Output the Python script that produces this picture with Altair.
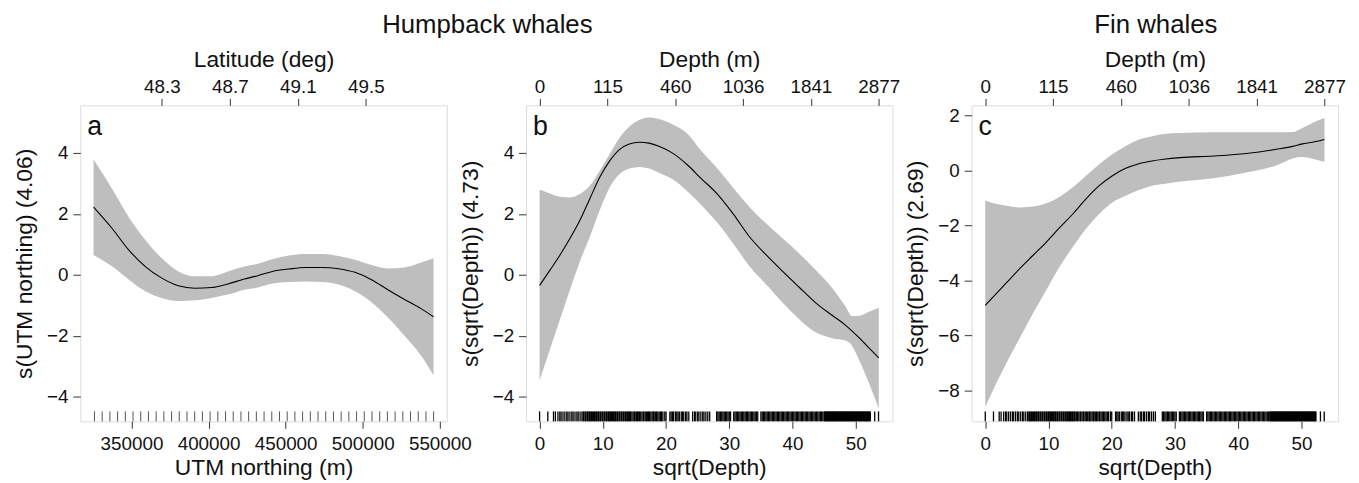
import altair as alt
import pandas as pd

FONT = "Liberation Sans"
GREY = "#BEBEBE"
W, H = 370, 319

# ---------------- Panel a: humpback, UTM northing ----------------
a_x = [325400, 337600, 348300, 359000, 369700, 380400, 391100, 401800, 412500,
       423200, 432000, 441400, 452100, 462800, 473600, 484200, 495000, 505700,
       516300, 527100, 537800, 545900]
a_fit = [2.22, 1.51, 0.81, 0.27, -0.11, -0.36, -0.44, -0.42, -0.30, -0.14, -0.03,
         0.11, 0.19, 0.24, 0.24, 0.20, 0.08, -0.16, -0.49, -0.81, -1.11, -1.38]
a_hi = [3.78, 2.81, 1.89, 1.14, 0.54, 0.11, -0.05, -0.05, 0.11, 0.27, 0.36,
        0.51, 0.63, 0.68, 0.68, 0.62, 0.49, 0.32, 0.21, 0.24, 0.40, 0.54]
a_lo = [0.65, 0.27, -0.16, -0.54, -0.76, -0.86, -0.84, -0.76, -0.65, -0.49, -0.42,
        -0.29, -0.24, -0.22, -0.24, -0.32, -0.54, -0.90, -1.40, -2.00, -2.65, -3.30]
a_rug = [326000, 331000, 336000, 341000, 346000, 351000, 356000, 361000, 366000,
         371000, 376000, 381000, 386000, 391000, 396000, 401000, 406000, 411000,
         416000, 421000, 426000, 431000, 436000, 441000, 446000, 451000, 456000,
         461000, 466000, 471000, 476000, 481000, 486000, 491000, 496000, 501000,
         506000, 511000, 516000, 521000, 526000, 531000, 536000, 541000, 546000]
a_xticks = [350000, 400000, 450000, 500000, 550000]
a_xdom = [316800, 554500]
lat_ticks = [48.3, 48.7, 49.1, 49.5]
lat_dom = [47.8204, 49.9757]   # latitude at the left / right edge of panel a

# ---------------- Panel b: humpback, sqrt(depth) ----------------
b_x = [0, 1.67, 3.23, 4.80, 6.36, 7.93, 9.49, 11.06, 12.62, 14.18, 15.75, 17.31,
       18.88, 20.97, 23.57, 25.40, 28.01, 30.61, 33.22, 35.84, 38.44, 41.05, 43.66,
       46.26, 48.36, 49.39, 50.44, 52.0, 53.64]
b_fit = [-0.35, 0.16, 0.65, 1.19, 1.78, 2.49, 3.19, 3.73, 4.11, 4.29, 4.35, 4.32,
         4.22, 4.00, 3.57, 3.19, 2.67, 2.00, 1.24, 0.65, 0.11, -0.41, -0.92, -1.33,
         -1.65, -1.84, -2.05, -2.38, -2.73]
b_hi = [2.79, 2.67, 2.56, 2.54, 2.65, 2.92, 3.41, 3.95, 4.49, 4.86, 5.08, 5.16,
        5.11, 4.94, 4.59, 4.11, 3.51, 2.86, 2.22, 1.68, 1.19, 0.70, 0.16, -0.43,
        -1.03, -1.35, -1.35, -1.22, -1.08]
b_lo = [-3.46, -2.43, -1.46, -0.49, 0.43, 1.24, 2.11, 2.86, 3.30, 3.49, 3.54, 3.49,
        3.35, 3.14, 2.70, 2.32, 1.73, 1.03, 0.27, -0.32, -0.92, -1.46, -1.89, -2.08,
        -2.16, -2.32, -2.76, -3.51, -4.38]

# ---------------- Panel c: fin whales, sqrt(depth) ----------------
c_x = [0, 1.82, 3.39, 5.48, 7.57, 9.66, 11.75, 13.84, 15.93, 18.02, 20.11, 22.20,
       24.29, 26.38, 28.21, 30.82, 36.05, 41.27, 46.49, 48.59, 50.16, 51.72, 53.64]
c_fit = [-4.91, -4.47, -4.08, -3.57, -3.09, -2.61, -2.09, -1.59, -1.04, -0.56, -0.20,
         0.07, 0.24, 0.34, 0.40, 0.46, 0.52, 0.61, 0.78, 0.87, 0.96, 1.02, 1.12]
c_hi = [-1.11, -1.23, -1.29, -1.35, -1.32, -1.20, -0.96, -0.62, -0.20, 0.22, 0.58,
        0.88, 1.12, 1.24, 1.32, 1.36, 1.38, 1.38, 1.38, 1.39, 1.54, 1.72, 1.90]
c_lo = [-8.61, -7.71, -6.99, -6.09, -5.19, -4.35, -3.51, -2.79, -2.13, -1.59, -1.17,
        -0.93, -0.72, -0.56, -0.50, -0.41, -0.29, -0.08, 0.22, 0.43, 0.48, 0.42, 0.30]

# rug of sqrt(depth) of survey segments (same for panels b and c)
depth_rug = [
    0.0, 1.3,
    2.2, 2.5, 2.9, 3.2, 3.4, 3.7, 4.0, 4.3, 4.5, 4.8, 5.1, 5.3, 5.6, 5.9, 6.1, 6.4, 6.7,
    6.9, 7.0, 7.2, 7.3, 7.5, 7.6, 7.8, 7.9, 8.1, 8.2, 8.4, 8.5, 8.7, 8.8, 9.0, 9.1,
    9.3, 9.4, 9.6, 9.7, 9.9, 10.0, 10.2, 10.3, 10.5, 10.6, 10.8, 10.9, 11.1, 11.2,
    11.4, 11.5, 11.7, 11.8, 12.0, 12.1, 12.3, 12.4, 12.6, 12.7, 12.9, 13.0, 13.2,
    13.3, 13.5, 13.6, 13.8, 13.9, 14.1, 14.2, 14.4, 14.6, 14.8, 15.0, 15.1, 15.3,
    15.5, 15.6, 15.8, 16.0, 16.2, 16.4, 16.5, 16.7, 16.9, 17.1, 17.2, 17.4, 17.6,
    17.8, 18.0, 18.1, 18.3, 18.5, 18.7, 18.9, 19.1, 19.3, 19.5,
    19.8, 20.0, 20.6, 20.8, 21.0, 21.2, 21.5, 21.7, 21.9, 22.1, 22.4, 22.6, 22.8,
    23.1, 23.3, 23.6, 24.2, 24.5, 24.7, 25.0, 25.2, 25.5, 25.8, 26.0, 26.3, 26.6, 26.9,
    28.0, 28.2, 28.4, 28.6, 28.8, 29.0, 29.2, 29.4, 29.6, 29.8, 30.0, 30.2, 30.7,
    30.9, 31.1, 31.3, 31.5, 31.7, 31.9, 32.1, 32.3, 32.5, 32.7, 32.9, 33.1, 33.3,
    33.5, 33.7, 33.9, 34.1, 34.3, 34.5, 35.0, 35.2, 35.4, 35.6, 35.8, 36.0, 36.2,
    36.4, 36.6, 36.8, 37.0, 37.2, 37.4, 37.6, 37.8, 38.0, 38.2, 38.4, 38.6, 38.8,
    39.0, 39.2, 39.4, 39.6, 39.8, 40.0, 40.2, 40.4, 40.6, 40.8, 41.0, 41.2, 41.4,
    41.6, 41.8, 42.0, 42.2, 42.4, 42.6, 42.8, 43.0, 43.2, 43.4, 43.6, 43.8, 44.0,
    44.2, 44.4, 44.6, 44.8,
    45.0, 45.1, 45.2, 45.3, 45.4, 45.5, 45.6, 45.7, 45.8, 45.9, 46.0, 46.1, 46.2,
    46.3, 46.4, 46.5, 46.6, 46.7, 46.8, 46.9, 47.0, 47.1, 47.2, 47.3, 47.4, 47.5,
    47.6, 47.7, 47.8, 47.9, 48.0, 48.1, 48.2, 48.3, 48.4, 48.5, 48.6, 48.7, 48.8,
    48.9, 49.0, 49.1, 49.2, 49.3, 49.4, 49.5, 49.6, 49.7, 49.8, 49.9, 50.0, 50.1,
    50.2, 50.3, 50.4, 50.5, 50.6, 50.7, 50.8, 50.9, 51.0, 51.1, 51.2, 51.3, 51.4,
    51.5, 51.6, 51.7, 51.8, 51.9, 52.0, 52.1, 52.2, 52.3,
    53.0, 53.6,
]
sq_xticks = [0, 10, 20, 30, 40, 50]
sq_xdom = [-2.15, 55.8]
depth_ticks = [0, 115, 460, 1036, 1841, 2877]

# tick positions of the top axes, expressed on each panel's own x scale
depth_tick_pos = [d ** 0.5 for d in depth_ticks]
_k = (a_xdom[1] - a_xdom[0]) / (lat_dom[1] - lat_dom[0])
lat_tick_pos = [a_xdom[0] + (v - lat_dom[0]) * _k for v in lat_ticks]
lat_label_expr = (f"format({lat_dom[0]} + (datum.value - {a_xdom[0]}) / {_k}, '.1f')")
depth_label_expr = "format(round(datum.value * datum.value), 'd')"

AXIS_COMMON = dict(grid=False, domain=False, labelFlush=False, labelOverlap=False,
                   tickColor="#333333", tickWidth=1, labelColor="#111111",
                   titleColor="#111111", labelFont=FONT, titleFont=FONT,
                   labelFontSize=19, titleFontSize=23, titleFontWeight="normal")


def panel(xs, fit, lo, hi, rug, xdom, ydom, xticks, xtitle, yticks, ytitle,
          letter, top_vals, top_expr, top_title, rug_color, rug_width, xfmt=None):
    df = pd.DataFrame({"x": xs, "fit": fit, "lo": lo, "hi": hi})
    rdf = pd.DataFrame({"x": rug})
    tdf = pd.DataFrame({"x": top_vals})
    xsc = alt.Scale(domain=xdom, nice=False, zero=False)
    ysc = alt.Scale(domain=ydom, nice=False, zero=False)

    bkw = dict(AXIS_COMMON)
    if xfmt:
        bkw["format"] = xfmt
    x_bottom = alt.Axis(orient="bottom", values=xticks, title=xtitle, tickSize=7,
                        labelPadding=6, titlePadding=4, **bkw)
    y_left = alt.Axis(orient="left", values=yticks, title=ytitle, tickSize=7.5,
                      labelPadding=5, titlePadding=10, **AXIS_COMMON)
    x_top = alt.Axis(orient="top", values=top_vals, title=top_title, tickSize=7,
                     labelPadding=2, titlePadding=6, labelExpr=top_expr, **AXIS_COMMON)

    band = alt.Chart(df).mark_area(color=GREY, interpolate="monotone").encode(
        x=alt.X("x:Q", scale=xsc, axis=x_bottom),
        y=alt.Y("lo:Q", scale=ysc, axis=y_left),
        y2="hi:Q",
    )
    line = alt.Chart(df).mark_line(color="black", strokeWidth=1.1,
                                   interpolate="monotone").encode(
        x=alt.X("x:Q", axis=None),
        y=alt.Y("fit:Q"),
    )
    rugm = alt.Chart(rdf).mark_rule(color=rug_color, strokeWidth=rug_width).encode(
        x=alt.X("x:Q", axis=None),
        y=alt.value(H - 10),
        y2=alt.value(H),
    )
    lab = alt.Chart(pd.DataFrame({"t": [letter]})).mark_text(
        align="left", baseline="alphabetic", fontSize=27, font=FONT, color="#111111"
    ).encode(text="t:N", x=alt.value(7), y=alt.value(30))
    top = alt.Chart(tdf).mark_point(opacity=0).encode(
        x=alt.X("x:Q", axis=x_top)
    )
    return alt.layer(band, line, rugm, lab, top).resolve_axis(x="independent")


TITLE_KW = dict(frame="group", anchor="middle", fontSize=26, font=FONT,
                fontWeight="normal", color="#111111", offset=11)

pa = panel(a_x, a_fit, a_lo, a_hi, a_rug, a_xdom, [-4.81, 5.56],
           a_xticks, "UTM northing (m)", [-4, -2, 0, 2, 4], "s(UTM northing) (4.06)",
           "a", lat_tick_pos, lat_label_expr, "Latitude (deg)", "#555555", 1, xfmt="d"
           ).properties(width=W, height=H,
                        title=alt.TitleParams("Humpback whales", dx=226, **TITLE_KW))

pb = panel(b_x, b_fit, b_lo, b_hi, depth_rug, sq_xdom, [-4.81, 5.56],
           sq_xticks, "sqrt(Depth)", [-4, -2, 0, 2, 4], "s(sqrt(Depth)) (4.73)",
           "b", depth_tick_pos, depth_label_expr, "Depth (m)", "#000000", 1.3
           ).properties(width=W, height=H)

pc = panel(c_x, c_fit, c_lo, c_hi, depth_rug, sq_xdom, [-9.13, 2.36],
           sq_xticks, "sqrt(Depth)", [-8, -6, -4, -2, 0, 2], "s(sqrt(Depth)) (2.69)",
           "c", depth_tick_pos, depth_label_expr, "Depth (m)", "#000000", 1.3
           ).properties(width=W, height=H,
                        title=alt.TitleParams("Fin whales", dx=1, **TITLE_KW))

chart = alt.hconcat(pa, pb, pc, spacing=80, bounds="flush").properties(
    padding={"left": 5, "top": 1, "right": 5, "bottom": 5}
).configure_view(stroke="#333333", strokeWidth=1).configure(background="white")

chart.save("out.html", embed_options={"renderer": "svg", "actions": False})
